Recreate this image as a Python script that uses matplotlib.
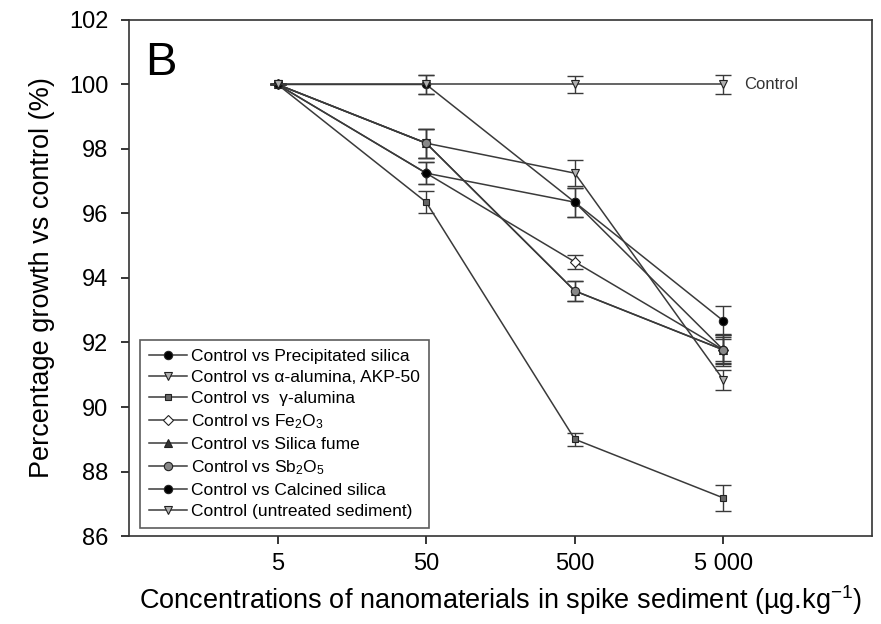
import matplotlib
matplotlib.use("Agg")
import matplotlib.pyplot as plt
from matplotlib.ticker import FixedLocator, FixedFormatter, NullLocator

plt.rcParams["font.family"] = ["Liberation Sans", "DejaVu Sans"]
plt.rcParams["mathtext.fontset"] = "custom"
plt.rcParams["mathtext.rm"] = "Liberation Sans"
plt.rcParams["mathtext.it"] = "Liberation Sans:italic"

# concentrations (ug/kg)
conc = [5, 50, 500, 5000]
tick_labels = ["5", "50", "500", "5 000"]

precipitated = [100, 97.25, 96.35, 92.67]
precipitated_err = [0, 0.35, 0.45, 0.45]
alpha_alumina = [100, 98.18, 97.25, 90.84]
alpha_alumina_err = [0, 0.45, 0.4, 0.3]
gamma_alumina = [100, 96.35, 89.0, 87.18]
gamma_alumina_err = [0, 0.35, 0.2, 0.4]
fe2o3 = [100, 97.25, 94.5, 91.77]
fe2o3_err = [0, 0.35, 0.22, 0.4]
silica_fume = [100, 98.18, 93.6, 91.77]
silica_fume_err = [0, 0.45, 0.3, 0.45]
sb2o5 = [100, 98.18, 93.6, 91.77]
sb2o5_err = [0, 0.45, 0.3, 0.35]
calcined = [100, 100, 96.35, 91.77]
calcined_err = [0, 0.3, 0.45, 0.5]
control = [100, 100, 100, 100]
control_err = [0, 0.3, 0.25, 0.3]

# label, values, errors, marker, face colour, marker size, z-order
series = [
    ("Control vs Precipitated silica", precipitated, precipitated_err, "o", "black", 6, 5),
    ("Control vs α-alumina, AKP-50", alpha_alumina, alpha_alumina_err, "v", "#b0b0b0", 5.5, 4),
    ("Control vs  γ-alumina", gamma_alumina, gamma_alumina_err, "s", "#666666", 5, 4),
    (r"Control vs Fe$_2$O$_3$", fe2o3, fe2o3_err, "D", "white", 5, 3),
    ("Control vs Silica fume", silica_fume, silica_fume_err, "^", "#333333", 5.5, 2),
    (r"Control vs Sb$_2$O$_5$", sb2o5, sb2o5_err, "o", "#888888", 6, 4),
    ("Control vs Calcined silica", calcined, calcined_err, "o", "black", 6, 2),
    ("Control (untreated sediment)", control, control_err, "v", "#b0b0b0", 5.5, 6),
]

line_col = "#3a3a3a"

fig = plt.figure(figsize=(8.81, 6.24), dpi=100)
ax = fig.add_axes([0.1464, 0.141, 0.8434, 0.827])

for label, vals, err, marker, fc, ms, z in series:
    ax.errorbar(conc, vals, yerr=err, fmt="none", ecolor=line_col,
                elinewidth=1.0, capsize=5.8, capthick=1.0, zorder=z)
    ax.plot(conc, vals, marker=marker, markersize=ms, markerfacecolor=fc,
            markeredgecolor="#222222", markeredgewidth=0.8, color=line_col,
            linewidth=1.1, label=label, zorder=z)

ax.set_xscale("log")
ax.set_xlim(0.5, 50000)
ax.set_ylim(86, 102)
ax.xaxis.set_major_locator(FixedLocator(conc))
ax.xaxis.set_major_formatter(FixedFormatter(tick_labels))
ax.xaxis.set_minor_locator(NullLocator())
ax.set_yticks(range(86, 103, 2))

for sp in ax.spines.values():
    sp.set_linewidth(1.2)
    sp.set_color("#333333")
ax.tick_params(labelsize=17, direction="out", length=6, width=1.1,
               top=False, right=False)
ax.tick_params(axis="y", pad=9)
ax.tick_params(axis="x", pad=6)

ax.set_ylabel("Percentage growth vs control (%)", fontsize=19.5, labelpad=10)
ax.set_xlabel(r"Concentrations of nanomaterials in spike sediment (µg.kg$^{-1}$)",
              fontsize=19.5, labelpad=6)

ax.text(0.022, 0.96, "B", transform=ax.transAxes, fontsize=34, va="top", ha="left")
ax.annotate("Control", xy=(conc[-1], control[-1]), xytext=(15, 0),
            textcoords="offset points", va="center", fontsize=12, color="#333333")

leg = ax.legend(loc="lower left", bbox_to_anchor=(0.0148, 0.0155), borderaxespad=0,
                fontsize=12.5, frameon=True, fancybox=False, handlelength=2.2,
                labelspacing=0.35, handletextpad=0.25, borderpad=0.5)
leg.get_frame().set_edgecolor("#333333")
leg.get_frame().set_linewidth(1.2)

fig.savefig("out.png", dpi=100)
